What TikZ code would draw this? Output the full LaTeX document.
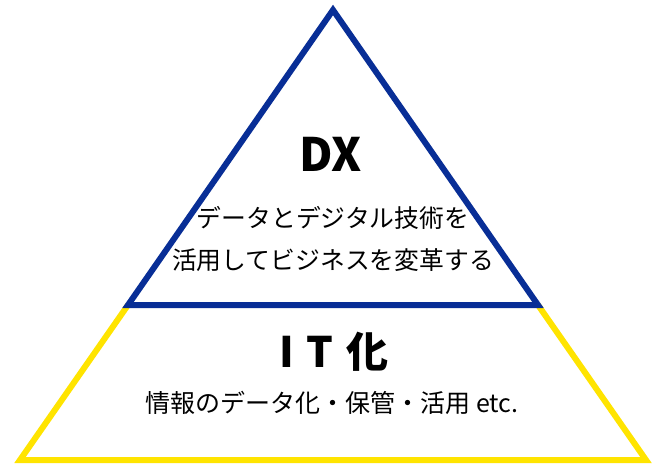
\documentclass[tikz,border=0pt]{standalone}
\usepackage{fontspec}
\newfontfamily\jp{Noto Sans CJK JP}
\definecolor{dxblue}{RGB}{8,46,150}
\definecolor{ityellow}{RGB}{255,228,0}
\begin{document}
\begin{tikzpicture}[x=1pt,y=-1pt,
  edge/.style={line width=6pt,line join=miter},
  title/.style={font=\jp\bfseries\fontsize{46}{48}\selectfont,inner sep=0pt},
  body/.style={font=\jp\fontsize{24.8}{42}\selectfont,align=center,inner sep=0pt}]
\useasboundingbox[fill=white] (0,0) rectangle (667,472);
\coordinate (apex) at (333,10);
\coordinate (bl) at (128,305);
\coordinate (br) at (538,305);
\coordinate (yl) at (20,460);
\coordinate (yr) at (646,460);
\draw[edge,draw=ityellow] (bl) -- (yl) -- (yr) -- (br);
\draw[edge,draw=dxblue] (apex) -- (bl) -- (br) -- cycle;
\node[title] (dx) at (331,154) {DX};
\node[body] (dxt) at (333,239) {データとデジタル技術を\\活用してビジネスを変革する};
\node[title,font=\jp\bfseries\fontsize{42}{48}\selectfont] (it) at (334,352) {I\hspace{0.3em}T\hspace{0.3em}化};
\node[body,font=\jp\fontsize{25}{30}\selectfont] (itt) at (332,403) {情報のデータ化・保管・活用 etc.};
\end{tikzpicture}
\end{document}
